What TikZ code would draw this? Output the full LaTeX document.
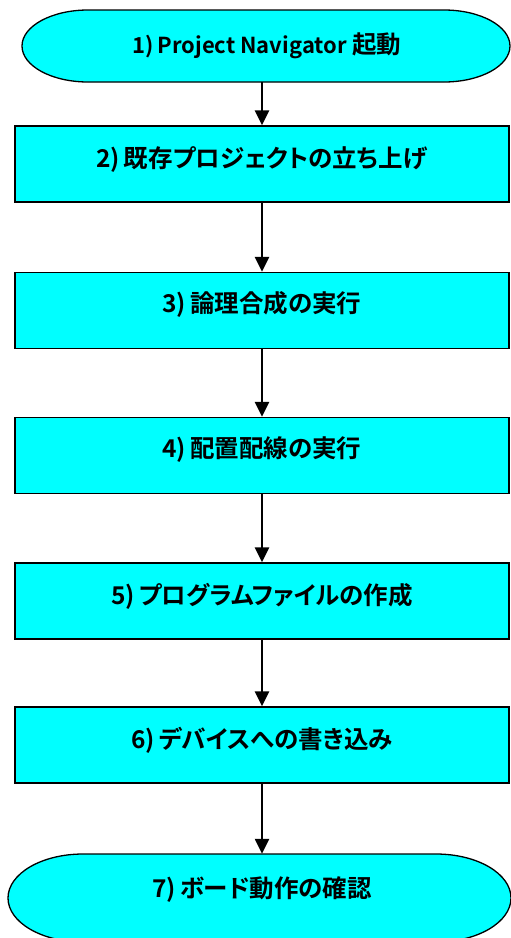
\documentclass[tikz,border=0pt]{standalone}
\usepackage{fontspec}
\setmainfont{Noto Sans CJK JP}[BoldFont={* Bold}, RawFeature={+palt}]
\definecolor{boxcyan}{RGB}{0,255,255}
\tikzset{
  stepbox/.style={draw=black, line width=1.3pt, fill=boxcyan, minimum width=494pt, minimum height=76pt, inner sep=0pt},
  termshape/.style={draw=none, minimum width=490pt, minimum height=72pt, inner sep=0pt},
  lbl/.style={font=\bfseries\fontsize{24.5}{28}\selectfont, inner sep=0pt},
  flow/.style={line width=2.4pt, -{Triangle[width=14pt,length=15pt]}},
  termdraw/.style={draw=black, line width=1.3pt, fill=boxcyan}
}
\usetikzlibrary{arrows.meta}
\begin{document}
\begin{tikzpicture}[x=1pt,y=-1pt]
\useasboundingbox (0,0) rectangle (511,938);
\clip (0,0) rectangle (511,938);
% terminator 1
\node[termshape] (n1) at (265,46) {};
\path[termdraw] (88,10) -- (444,10) arc[start angle=90, end angle=-90, x radius=66pt, y radius=36pt]
  -- (88,82) arc[start angle=270, end angle=90, x radius=66pt, y radius=36pt] -- cycle;
\node[lbl] (t1) at (267,46) {{\fontsize{22}{26}\selectfont 1)\,Project Navigator} 起動};
% boxes
\node[stepbox] (n2) at (262,164) {};
\node[lbl] (t2) at (262,160) {2)\,既存プロジェクトの立ち上げ};
\node[stepbox] (n3) at (262,310.5) {};
\node[lbl] (t3) at (262,304) {3)\,論理合成の実行};
\node[stepbox] (n4) at (262,455.5) {};
\node[lbl] (t4) at (262,450) {4)\,配置配線の実行};
\node[stepbox] (n5) at (262,601) {};
\node[lbl] (t5) at (262,596) {5)\,プログラムファイルの作成};
\node[stepbox] (n6) at (262,745) {};
\node[lbl] (t6) at (262,740) {6)\,デバイスへの書き込み};
% terminator 7
\node[termshape, minimum width=503pt, minimum height=88pt] (n7) at (259.5,898) {};
\path[termdraw] (83,854) -- (436,854) arc[start angle=90, end angle=-90, x radius=75pt, y radius=44pt]
  -- (83,942) arc[start angle=270, end angle=90, x radius=75pt, y radius=44pt] -- cycle;
\node[lbl] (t7) at (262,890) {7)\,ボード動作の確認};
% arrows
\draw[flow] (n1.south -| 262,0) -- (n2.north -| 262,0);
\draw[flow] (n2.south) -- (n3.north);
\draw[flow] (n3.south) -- (n4.north);
\draw[flow] (n4.south) -- (n5.north);
\draw[flow] (n5.south) -- (n6.north);
\draw[flow] (n6.south) -- (n7.north -| n6.south);
\end{tikzpicture}
\end{document}
